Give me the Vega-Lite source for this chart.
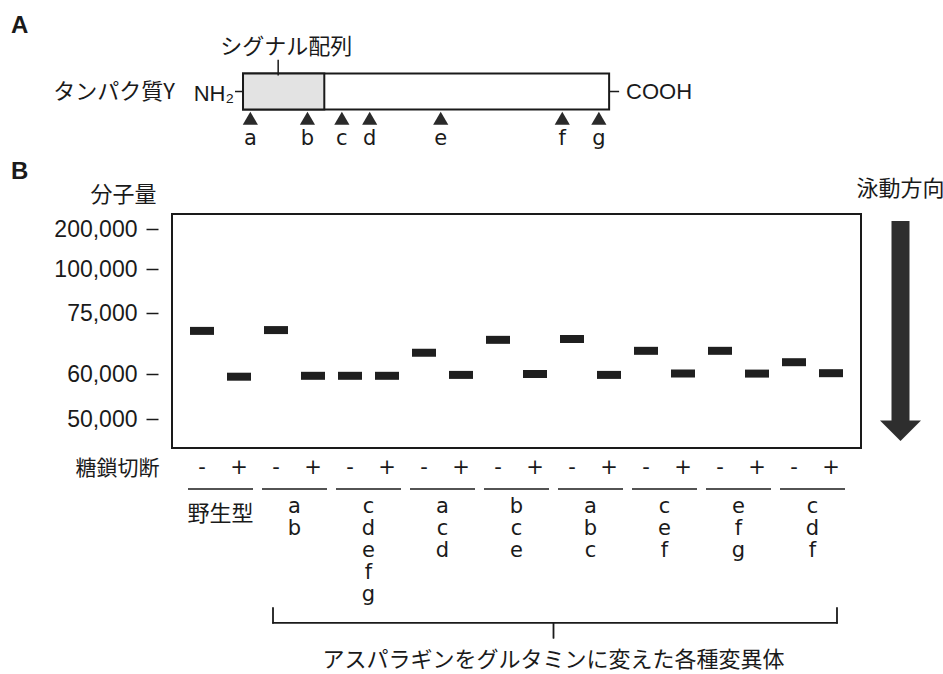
{
  "$schema": "https://vega.github.io/schema/vega-lite/v6.json",
  "background": "white",
  "padding": {"left": 10, "top": 14, "right": 0, "bottom": 0},
  "columns": 2,
  "align": "each",
  "bounds": "flush",
  "spacing": {"row": 0, "column": 19},
  "config": {
    "view": {"stroke": null},
    "text": {"color": "#1a1a1a"},
    "rule": {"color": "#1a1a1a"},
    "title": {"color": "#1a1a1a", "fontSize": 24}
  },
  "concat": [
    {
      "width": 689,
      "height": 183,
      "title": {"text": "A", "anchor": "start", "frame": "group", "dx": -161, "offset": -7, "fontSize": 24, "font": "Liberation Sans", "fontWeight": "bold"},
      "layer": [
        {
          "data": {"values": [
            {"region": "protein", "start": 0, "end": 500},
            {"region": "signal", "start": 0, "end": 111}
          ]},
          "mark": {"type": "bar", "height": 36, "stroke": "#1a1a1a", "strokeWidth": 2},
          "encoding": {
            "x": {"field": "start", "type": "quantitative", "scale": {"domain": [-97, 844], "nice": false, "zero": false}, "axis": null},
            "x2": {"field": "end"},
            "y": {"datum": "protein", "type": "nominal", "scale": {"type": "point", "domain": ["label", "protein", "site"], "padding": 1.0333, "align": 0.1613}, "axis": null},
            "color": {"field": "region", "type": "nominal", "scale": {"domain": ["protein", "signal"], "range": ["#ffffff", "#e3e3e3"]}, "legend": null}
          }
        },
        {
          "data": {"values": [{"label": "シグナル配列", "pos": 48}]},
          "layer": [
            {
              "mark": {"type": "rule", "strokeWidth": 1.5, "yOffset": 14, "y2Offset": -16},
              "encoding": {
                "x": {"field": "pos", "type": "quantitative"},
                "y": {"datum": "label", "type": "nominal"},
                "y2": {"datum": "protein"}
              }
            },
            {
              "mark": {"type": "text", "font": "Noto Sans CJK JP", "fontSize": 22, "baseline": "middle", "align": "center", "dx": 8, "dy": 1},
              "encoding": {
                "x": {"field": "pos", "type": "quantitative"},
                "y": {"datum": "label", "type": "nominal"},
                "text": {"field": "label"}
              }
            }
          ]
        },
        {
          "data": {"values": [
            {"site": "a", "pos": 10},
            {"site": "b", "pos": 88},
            {"site": "c", "pos": 135},
            {"site": "d", "pos": 173},
            {"site": "e", "pos": 270},
            {"site": "f", "pos": 436},
            {"site": "g", "pos": 486}
          ]},
          "layer": [
            {
              "mark": {"type": "point", "shape": "triangle-up", "size": 230, "filled": true, "color": "#2a2a2a", "opacity": 1, "yOffset": -19},
              "encoding": {
                "x": {"field": "pos", "type": "quantitative"},
                "y": {"datum": "site", "type": "nominal"}
              }
            },
            {
              "mark": {"type": "text", "font": "DejaVu Sans", "fontSize": 21, "baseline": "middle", "align": "center", "dy": 2},
              "encoding": {
                "x": {"field": "pos", "type": "quantitative"},
                "y": {"datum": "site", "type": "nominal"},
                "text": {"field": "site"}
              }
            }
          ]
        },
        {
          "data": {"values": [
            {"terminus": "N", "pos": 0, "label": "NH₂"},
            {"terminus": "C", "pos": 500, "label": "COOH"}
          ]},
          "layer": [
            {
              "transform": [{"filter": "datum.terminus == 'N'"}],
              "mark": {"type": "rule", "strokeWidth": 1.5, "xOffset": -8},
              "encoding": {
                "x": {"field": "pos", "type": "quantitative"},
                "x2": {"field": "pos"},
                "y": {"datum": "protein", "type": "nominal"}
              }
            },
            {
              "transform": [{"filter": "datum.terminus == 'C'"}],
              "mark": {"type": "rule", "strokeWidth": 1.5, "x2Offset": 10},
              "encoding": {
                "x": {"field": "pos", "type": "quantitative"},
                "x2": {"field": "pos"},
                "y": {"datum": "protein", "type": "nominal"}
              }
            },
            {
              "transform": [{"filter": "datum.terminus == 'N'"}],
              "mark": {"type": "text", "font": "Liberation Sans", "fontSize": 22, "baseline": "middle", "align": "right", "dx": -9, "dy": 2},
              "encoding": {
                "x": {"field": "pos", "type": "quantitative"},
                "y": {"datum": "protein", "type": "nominal"},
                "text": {"field": "label"}
              }
            },
            {
              "transform": [{"filter": "datum.terminus == 'N'"}],
              "mark": {"type": "text", "font": "Noto Sans CJK JP", "fontSize": 22, "baseline": "middle", "align": "right", "dx": -68},
              "encoding": {
                "x": {"field": "pos", "type": "quantitative"},
                "y": {"datum": "protein", "type": "nominal"},
                "text": {"value": "タンパク質Y"}
              }
            },
            {
              "transform": [{"filter": "datum.terminus == 'C'"}],
              "mark": {"type": "text", "font": "Liberation Sans", "fontSize": 22, "baseline": "middle", "align": "left", "dx": 17},
              "encoding": {
                "x": {"field": "pos", "type": "quantitative"},
                "y": {"datum": "protein", "type": "nominal"},
                "text": {"field": "label"}
              }
            }
          ]
        }
      ]
    },
    {
      "width": 41,
      "height": 1,
      "data": {"values": [{}]},
      "mark": {"type": "point", "opacity": 0}
    },
    {
      "width": 689,
      "height": 234,
      "view": {"stroke": "#1a1a1a", "strokeWidth": 2},
      "title": {"text": "B", "anchor": "start", "frame": "group", "dx": -161, "offset": -1, "fontSize": 24, "font": "Liberation Sans", "fontWeight": "bold"},
      "data": {"values": [
        {"lane": 1, "variant": "野生型", "treatment": "-", "mw": 70600},
        {"lane": 2, "variant": "野生型", "treatment": "+", "mw": 59400},
        {"lane": 3, "variant": "ab", "treatment": "-", "mw": 70800},
        {"lane": 4, "variant": "ab", "treatment": "+", "mw": 59600},
        {"lane": 5, "variant": "cdefg", "treatment": "-", "mw": 59600},
        {"lane": 6, "variant": "cdefg", "treatment": "+", "mw": 59600},
        {"lane": 7, "variant": "acd", "treatment": "-", "mw": 65200},
        {"lane": 8, "variant": "acd", "treatment": "+", "mw": 59800},
        {"lane": 9, "variant": "bce", "treatment": "-", "mw": 68400},
        {"lane": 10, "variant": "bce", "treatment": "+", "mw": 60000},
        {"lane": 11, "variant": "abc", "treatment": "-", "mw": 68600},
        {"lane": 12, "variant": "abc", "treatment": "+", "mw": 59800},
        {"lane": 13, "variant": "cef", "treatment": "-", "mw": 65700},
        {"lane": 14, "variant": "cef", "treatment": "+", "mw": 60100},
        {"lane": 15, "variant": "efg", "treatment": "-", "mw": 65700},
        {"lane": 16, "variant": "efg", "treatment": "+", "mw": 60100},
        {"lane": 17, "variant": "cdf", "treatment": "-", "mw": 62900},
        {"lane": 18, "variant": "cdf", "treatment": "+", "mw": 60200}
      ]},
      "mark": {"type": "tick", "thickness": 8, "size": 24, "color": "#1f1f1f", "opacity": 1},
      "encoding": {
        "x": {
          "field": "lane", "type": "ordinal",
          "scale": {"type": "band", "domain": [1,2,3,4,5,6,7,8,9,10,11,12,13,14,15,16,17,18], "paddingInner": 0, "paddingOuter": 0.311},
          "axis": {
            "title": "糖鎖切断", "labelExpr": "datum.value % 2 == 1 ? '-' : '+'", "labelAngle": 0,
            "domain": false, "ticks": false, "grid": false, "labelPadding": 8,
            "labelFont": "DejaVu Sans", "labelFontSize": 21, "labelColor": "#1a1a1a",
            "titleFont": "Noto Sans CJK JP", "titleFontSize": 21, "titleFontWeight": "normal", "titleColor": "#1a1a1a",
            "titleAngle": 0, "titleAlign": "right", "titleBaseline": "middle", "titleX": -13, "titleY": 20
          }
        },
        "y": {
          "field": "mw", "type": "quantitative",
          "scale": {"domain": [50000, 60000, 75000, 100000, 200000], "range": [205, 160, 99, 55, 15], "nice": false, "zero": false},
          "axis": {
            "title": "分子量", "values": [50000, 60000, 75000, 100000, 200000], "labelExpr": "format(datum.value, ',')",
            "offset": 14, "domain": false, "grid": false, "tickSize": 12, "tickWidth": 1.5, "tickColor": "#1a1a1a",
            "labelFont": "Liberation Sans", "labelFontSize": 23, "labelColor": "#1a1a1a", "labelPadding": 9,
            "titleFont": "Noto Sans CJK JP", "titleFontSize": 22, "titleFontWeight": "normal", "titleColor": "#1a1a1a",
            "titleAngle": 0, "titleAlign": "right", "titleBaseline": "middle", "titleX": -2, "titleY": -20
          }
        }
      }
    },
    {
      "width": 41,
      "height": 234,
      "title": {"text": "泳動方向", "anchor": "middle", "frame": "group", "offset": 13, "fontSize": 22, "font": "Noto Sans CJK JP", "fontWeight": "normal"},
      "data": {"values": [{"direction": "泳動方向", "from": 0, "to": 1}]},
      "layer": [
        {
          "mark": {"type": "bar", "width": 18, "color": "#2e2e2e", "y2Offset": -20},
          "encoding": {
            "x": {"field": "direction", "type": "nominal", "scale": {"type": "band", "paddingInner": 0, "paddingOuter": 0}, "axis": null},
            "y": {"field": "from", "type": "quantitative", "scale": {"domain": [-0.0318, 1.0318], "reverse": true, "nice": false, "zero": false}, "axis": null},
            "y2": {"field": "to"}
          }
        },
        {
          "mark": {"type": "point", "shape": "M-1,-1L1,-1L0,0Z", "size": 1681, "filled": true, "color": "#2e2e2e", "opacity": 1},
          "encoding": {
            "x": {"field": "direction", "type": "nominal"},
            "y": {"field": "to", "type": "quantitative"}
          }
        }
      ]
    },
    {
      "width": 689,
      "height": 227,
      "layer": [
        {
          "data": {"values": [
            {"minus": 1, "plus": 2}, {"minus": 3, "plus": 4}, {"minus": 5, "plus": 6},
            {"minus": 7, "plus": 8}, {"minus": 9, "plus": 10}, {"minus": 11, "plus": 12},
            {"minus": 13, "plus": 14}, {"minus": 15, "plus": 16}, {"minus": 17, "plus": 18}
          ]},
          "mark": {"type": "rule", "strokeWidth": 1.6, "xOffset": -14, "x2Offset": 14},
          "encoding": {
            "x": {"field": "minus", "type": "ordinal", "scale": {"type": "band", "domain": [1,2,3,4,5,6,7,8,9,10,11,12,13,14,15,16,17,18], "paddingInner": 0, "paddingOuter": 0.311}, "axis": null},
            "x2": {"field": "plus"},
            "y": {"datum": -0.07, "type": "quantitative", "scale": {"domain": [-1.932, 8.386], "reverse": true, "nice": false, "zero": false}, "axis": null}
          }
        },
        {
          "data": {"values": [
            {"lane": 3, "line": 1, "site": "a"}, {"lane": 3, "line": 2, "site": "b"},
            {"lane": 5, "line": 1, "site": "c"}, {"lane": 5, "line": 2, "site": "d"}, {"lane": 5, "line": 3, "site": "e"}, {"lane": 5, "line": 4, "site": "f"}, {"lane": 5, "line": 5, "site": "g"},
            {"lane": 7, "line": 1, "site": "a"}, {"lane": 7, "line": 2, "site": "c"}, {"lane": 7, "line": 3, "site": "d"},
            {"lane": 9, "line": 1, "site": "b"}, {"lane": 9, "line": 2, "site": "c"}, {"lane": 9, "line": 3, "site": "e"},
            {"lane": 11, "line": 1, "site": "a"}, {"lane": 11, "line": 2, "site": "b"}, {"lane": 11, "line": 3, "site": "c"},
            {"lane": 13, "line": 1, "site": "c"}, {"lane": 13, "line": 2, "site": "e"}, {"lane": 13, "line": 3, "site": "f"},
            {"lane": 15, "line": 1, "site": "e"}, {"lane": 15, "line": 2, "site": "f"}, {"lane": 15, "line": 3, "site": "g"},
            {"lane": 17, "line": 1, "site": "c"}, {"lane": 17, "line": 2, "site": "d"}, {"lane": 17, "line": 3, "site": "f"}
          ]},
          "mark": {"type": "text", "font": "DejaVu Sans", "fontSize": 21, "baseline": "alphabetic", "align": "center"},
          "encoding": {
            "x": {"field": "lane", "type": "ordinal", "bandPosition": 1},
            "y": {"field": "line", "type": "quantitative"},
            "text": {"field": "site"}
          }
        },
        {
          "data": {"values": [{"lane": 1, "line": 1, "label": "野生型"}]},
          "mark": {"type": "text", "font": "Noto Sans CJK JP", "fontSize": 22, "baseline": "alphabetic", "align": "center", "dy": 8},
          "encoding": {
            "x": {"field": "lane", "type": "ordinal", "bandPosition": 1},
            "y": {"field": "line", "type": "quantitative"},
            "text": {"field": "label"}
          }
        },
        {
          "data": {"values": [{"first": 3, "last": 18, "middle": 11, "label": "アスパラギンをグルタミンに変えた各種変異体"}]},
          "layer": [
            {
              "mark": {"type": "rule", "strokeWidth": 1.8, "strokeCap": "round", "xOffset": -3, "x2Offset": 6},
              "encoding": {
                "x": {"field": "first", "type": "ordinal"},
                "x2": {"field": "last"},
                "y": {"datum": 6.02, "type": "quantitative"}
              }
            },
            {
              "mark": {"type": "rule", "strokeWidth": 1.8, "strokeCap": "round", "xOffset": -3},
              "encoding": {
                "x": {"field": "first", "type": "ordinal"},
                "y": {"datum": 5.34, "type": "quantitative"},
                "y2": {"datum": 6.02}
              }
            },
            {
              "mark": {"type": "rule", "strokeWidth": 1.8, "strokeCap": "round", "xOffset": 6},
              "encoding": {
                "x": {"field": "last", "type": "ordinal"},
                "y": {"datum": 5.34, "type": "quantitative"},
                "y2": {"datum": 6.02}
              }
            },
            {
              "mark": {"type": "rule", "strokeWidth": 1.8, "strokeCap": "round"},
              "encoding": {
                "x": {"field": "middle", "type": "ordinal", "bandPosition": 0},
                "y": {"datum": 6.02, "type": "quantitative"},
                "y2": {"datum": 6.7}
              }
            },
            {
              "mark": {"type": "text", "font": "Noto Sans CJK JP", "fontSize": 22, "baseline": "middle", "align": "center"},
              "encoding": {
                "x": {"field": "middle", "type": "ordinal", "bandPosition": 0},
                "y": {"datum": 7.72, "type": "quantitative"},
                "text": {"field": "label"}
              }
            }
          ]
        }
      ]
    }
  ]
}
